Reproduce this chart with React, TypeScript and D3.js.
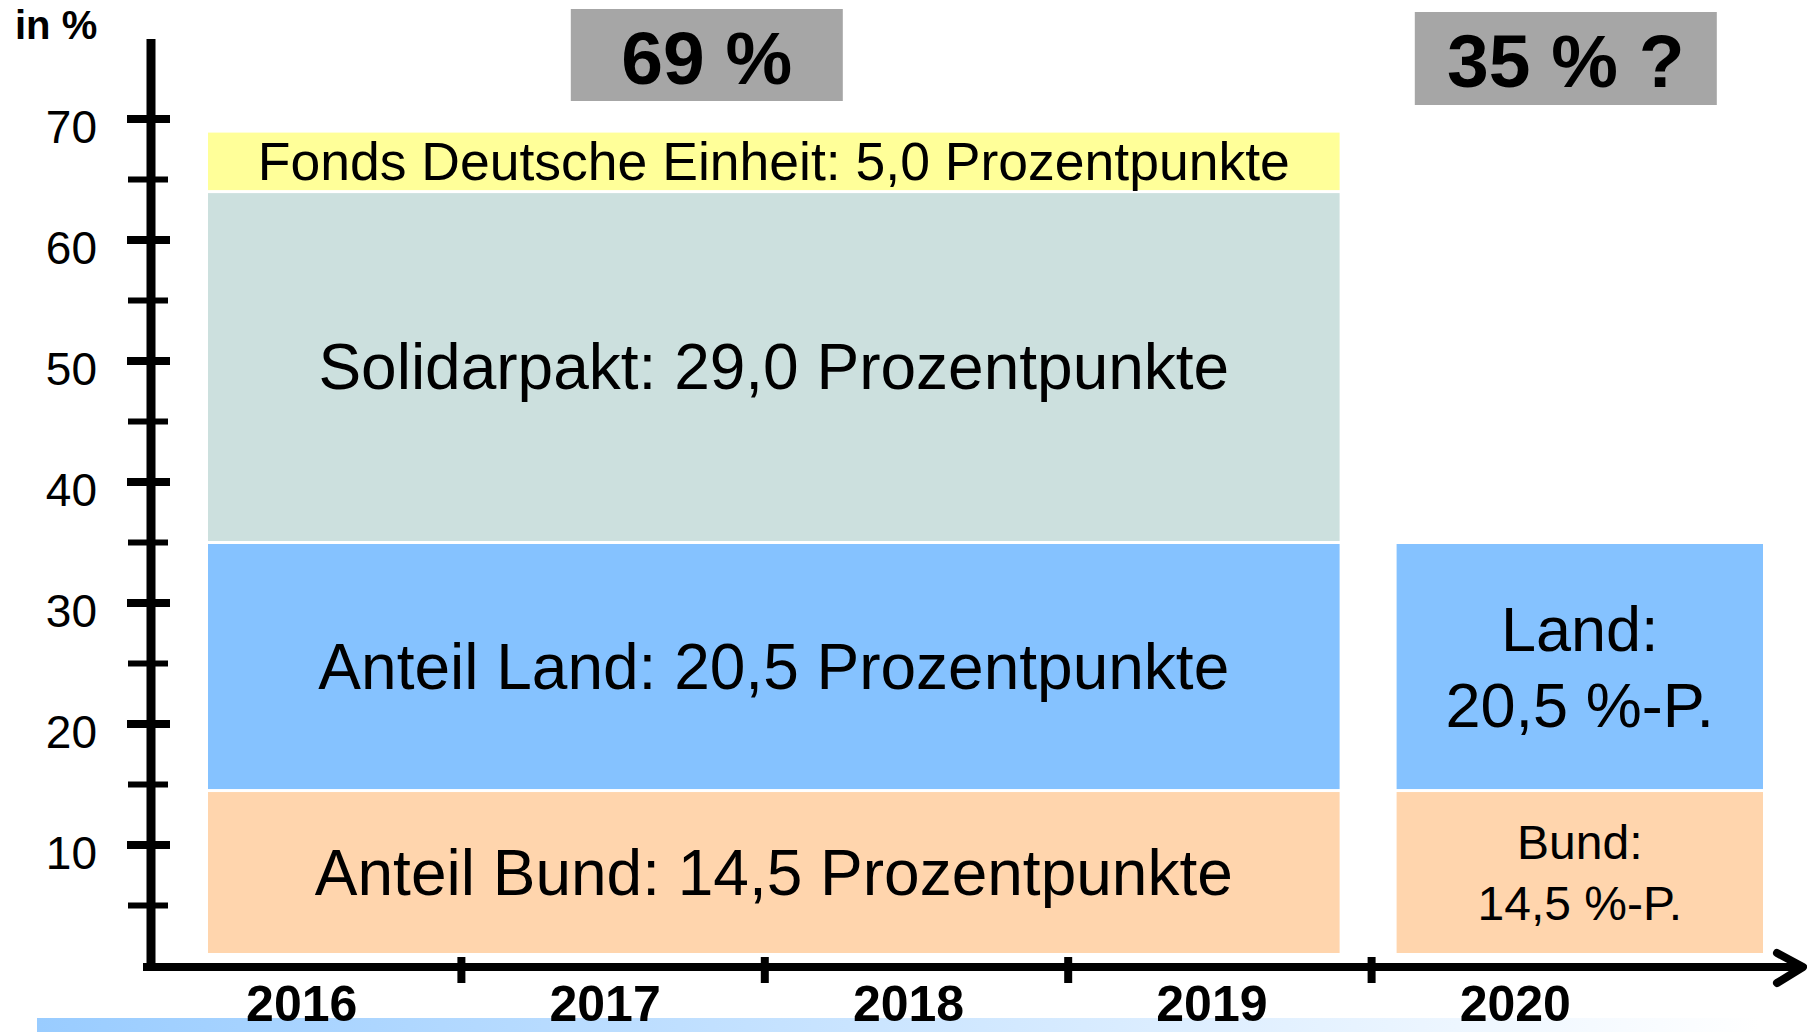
import React, {useRef, useEffect} from 'react';
import * as d3 from 'd3';

// x categories and y ticks
const years = ['2016', '2017', '2018', '2019', '2020'];
const yTicksMajor = [10, 20, 30, 40, 50, 60, 70];
const yTicksMinor = [5, 15, 25, 35, 45, 55, 65];

// 2016-2019 stack (bottom to top)
const mainKeys = ['bund', 'land', 'solidarpakt', 'fonds'];
const mainValues = [14.5, 20.5, 29.0, 5.0];
const mainLabels = [
    'Anteil Bund: 14,5 Prozentpunkte',
    'Anteil Land: 20,5 Prozentpunkte',
    'Solidarpakt: 29,0 Prozentpunkte',
    'Fonds Deutsche Einheit: 5,0 Prozentpunkte',
];

// 2020 stack (bottom to top)
const futureKeys = ['bund', 'land'];
const futureValues = [14.5, 20.5];
const futureLabels = [['Bund:', '14,5 %-P.'], ['Land:', '20,5 %-P.']];

const colors: Record<string, string> = {
    bund: '#ffd5ad',
    land: '#85c2ff',
    solidarpakt: '#cce0de',
    fonds: '#ffff99',
};

const WIDTH = 1807;
const HEIGHT = 1032;
const FONT = '"Liberation Sans", Arial, sans-serif';

const Chart = () => {
    const svgRef = useRef<SVGSVGElement>(null);

    useEffect(() => {
        const svg = d3.select(svgRef.current);
        svg.selectAll('*').remove();

        // Scales
        const y = d3.scaleLinear().domain([0, 70]).range([966, 119]);
        const x = d3.scaleBand().domain(years).range([158, 1675]).padding(0);
        const bw = x.bandwidth();

        // Bottom gradient band
        const defs = svg.append('defs');
        const grad = defs.append('linearGradient').attr('id', 'band');
        grad.append('stop').attr('offset', '0%').attr('stop-color', '#99ccff');
        grad.append('stop').attr('offset', '100%').attr('stop-color', '#ffffff');
        svg.append('rect')
            .attr('x', 37).attr('y', 1018)
            .attr('width', 1723).attr('height', 14)
            .attr('fill', 'url(#band)');

        const baseGap = 13;
        const segGap = 1.5;

        // Draw a stack of segments
        const drawStack = (keys: string[], values: number[], x0: number, x1: number) => {
            let cum = 0;
            return keys.map((k, i) => {
                const top = y(cum + values[i]) + segGap;
                const bottom = i === 0 ? y(0) - baseGap : y(cum) - segGap;
                cum += values[i];
                svg.append('rect')
                    .attr('x', x0).attr('y', top)
                    .attr('width', x1 - x0).attr('height', bottom - top)
                    .attr('fill', colors[k]);
                return {cx: (x0 + x1) / 2, cy: (top + bottom) / 2};
            });
        };

        // 2016-2019 bar
        const m0 = x('2016')! + 50;
        const m1 = x('2019')! + bw - 32;
        const mainPos = drawStack(mainKeys, mainValues, m0, m1);
        mainPos.forEach((p, i) => {
            const fs = mainKeys[i] === 'fonds' ? 53.5 : 64;
            svg.append('text')
                .attr('x', p.cx).attr('y', p.cy + fs * 0.35)
                .attr('text-anchor', 'middle')
                .attr('font-family', FONT)
                .attr('font-size', fs)
                .text(mainLabels[i]);
        });

        // 2020 bar
        const f0 = x('2020')! + 25;
        const f1 = x('2020')! + bw + 88;
        const futurePos = drawStack(futureKeys, futureValues, f0, f1);
        futurePos.forEach((p, i) => {
            const fs = futureKeys[i] === 'land' ? 63 : 48;
            const lh = futureKeys[i] === 'land' ? 76 : 61;
            const lines = futureLabels[i];
            lines.forEach((line, j) => {
                svg.append('text')
                    .attr('x', p.cx).attr('y', p.cy + (j - (lines.length - 1) / 2) * lh + fs * 0.35)
                    .attr('text-anchor', 'middle')
                    .attr('font-family', FONT)
                    .attr('font-size', fs)
                    .text(line);
            });
        });

        // Total boxes on top
        const boxes = [
            {cx: (m0 + m1) / 2 - 67, w: 272, top: 9, h: 92, text: `${d3.sum(mainValues)} %`},
            {cx: (f0 + f1) / 2 - 14, w: 302, top: 12, h: 93, text: `${d3.sum(futureValues)} % ?`},
        ];
        boxes.forEach(b => {
            svg.append('rect')
                .attr('x', b.cx - b.w / 2).attr('y', b.top)
                .attr('width', b.w).attr('height', b.h)
                .attr('fill', '#a6a6a6');
            svg.append('text')
                .attr('x', b.cx).attr('y', b.top + b.h / 2 + 75 * 0.38)
                .attr('text-anchor', 'middle')
                .attr('font-family', FONT)
                .attr('font-weight', 'bold')
                .attr('font-size', 75)
                .text(b.text);
        });

        // Y axis
        const yAxisX = 151;
        svg.append('line')
            .attr('x1', yAxisX).attr('x2', yAxisX)
            .attr('y1', 39).attr('y2', y(0) + 4)
            .attr('stroke', '#000').attr('stroke-width', 9);
        svg.selectAll('.ymajor')
            .data(yTicksMajor).enter().append('line')
            .attr('x1', 127).attr('x2', 170)
            .attr('y1', d => y(d)).attr('y2', d => y(d))
            .attr('stroke', '#000').attr('stroke-width', 8);
        svg.selectAll('.yminor')
            .data(yTicksMinor).enter().append('line')
            .attr('x1', 128).attr('x2', 168)
            .attr('y1', d => y(d)).attr('y2', d => y(d))
            .attr('stroke', '#000').attr('stroke-width', 6);
        svg.selectAll('.ylabel')
            .data(yTicksMajor).enter().append('text')
            .attr('x', 97).attr('y', d => y(d) + 24)
            .attr('text-anchor', 'end')
            .attr('font-family', FONT)
            .attr('font-size', 46)
            .text(d => d);
        svg.append('text')
            .attr('x', 15).attr('y', 39)
            .attr('font-family', FONT)
            .attr('font-weight', 'bold')
            .attr('font-size', 40)
            .text('in %');

        // X axis with arrow
        const axisY = y(0) + 1;
        svg.append('line')
            .attr('x1', 143).attr('x2', 1800)
            .attr('y1', axisY).attr('y2', axisY)
            .attr('stroke', '#000').attr('stroke-width', 8);
        svg.append('polyline')
            .attr('points', `1777,${axisY - 14} 1803,${axisY} 1777,${axisY + 16}`)
            .attr('fill', 'none')
            .attr('stroke', '#000').attr('stroke-width', 8)
            .attr('stroke-linecap', 'round').attr('stroke-linejoin', 'round');
        svg.selectAll('.xtick')
            .data(years.slice(1)).enter().append('line')
            .attr('x1', d => x(d)!).attr('x2', d => x(d)!)
            .attr('y1', axisY - 10).attr('y2', axisY + 16)
            .attr('stroke', '#000').attr('stroke-width', 8);
        svg.selectAll('.xlabel')
            .data(years).enter().append('text')
            .attr('x', d => x(d)! + bw / 2 - 8)
            .attr('y', 1021)
            .attr('text-anchor', 'middle')
            .attr('font-family', FONT)
            .attr('font-weight', 'bold')
            .attr('font-size', 50)
            .text(d => d);
    }, []);

    return (
        <svg ref={svgRef} width={WIDTH} height={HEIGHT}
             style={{position: 'absolute', left: 0, top: 0, display: 'block', background: '#fff'}}/>
    );
};

export default function App() {
    return <Chart/>;
}
